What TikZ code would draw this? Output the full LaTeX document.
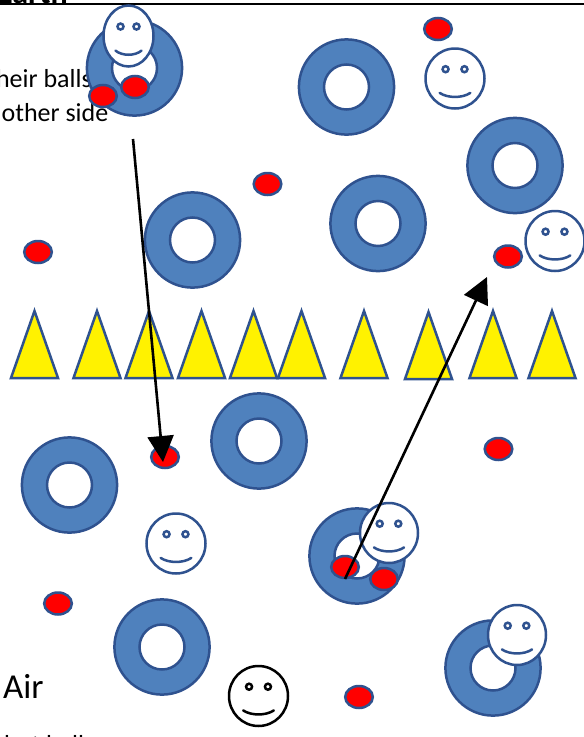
\documentclass[tikz,border=0pt]{standalone}
\usepackage{fontspec}
\setmainfont{Carlito}
\usetikzlibrary{arrows.meta}
\definecolor{ringfill}{HTML}{4F81BD}
\definecolor{ringline}{HTML}{2F528F}
\tikzset{
  x=1pt,y=-1pt,
  ring/.style={draw=ringline,line width=2.5pt,fill=ringfill,even odd rule},
  ballshape/.style={draw=ringline,line width=2.5pt,fill=red},
  tri/.style={draw=ringline,line width=2.5pt,fill=yellow,line join=miter},
  facebody/.style={draw=#1,line width=2.5pt,fill=white},
  facemark/.style={draw=#1,line width=2.5pt},
  txt/.style={inner sep=0pt,anchor=base west,text=black},
  txtend/.style={inner sep=0pt,anchor=base east,text=black},
  arrowline/.style={draw=black,line width=2.6pt,-{Triangle[length=26pt,width=26pt]}},
}
\newcommand{\ringat}[2]{\path[ring] (#1,#2) circle[radius=47.6] (#1,#2) circle[radius=22.5];}
\newcommand{\ballat}[2]{\path[ballshape] (#1,#2) ellipse[x radius=13.8,y radius=11];}
\newcommand{\triat}[2]{\path[tri] (#1-23.5,#2+33.5) -- (#1,#2-33.5) -- (#1+23.5,#2+33.5) -- cycle;}
\newcommand{\faceat}[5][ringline]{%
  \begin{scope}[shift={(#2,#3)}]
    \path[facebody=#1] (0,0) ellipse[x radius=#4,y radius=#5];
    \path[facemark=#1] (-0.32*#4,-0.31*#5) circle[radius=3]
                       (0.32*#4,-0.31*#5) circle[radius=3];
    \path[facemark=#1,line cap=round] (-0.52*#4,0.48*#5) .. controls (-0.25*#4,0.66*#5) and (0.25*#4,0.66*#5) .. (0.52*#4,0.48*#5);
  \end{scope}}
\begin{document}
\begin{tikzpicture}
\useasboundingbox (0,0) rectangle (584,737);
\node[txt,font=\fontsize{32}{32}\selectfont\bfseries] (earth) at (-3,3) {Earth};
\draw[black,line width=1.7pt] (0,3.7) -- (584,3.7);
\node[txtend,font=\fontsize{26}{26}\selectfont] (theirballs) at (92,87) {their balls};
\node[txtend,font=\fontsize{26}{26}\selectfont] (otherside) at (108.5,121) {the other side};
\node[txt,font=\fontsize{35}{35}\selectfont] (air) at (3,698) {Air};
\node[txt,font=\fontsize{26}{26}\selectfont] (hotballs) at (4,753) {hot balls};
% rings
\ringat{134.5}{68}
\ringat{346.5}{87}
\ringat{515}{165.5}
\ringat{192.5}{240}
\ringat{378}{223.5}
\ringat{259}{441}
\ringat{69.5}{485}
\ringat{357}{556}
\ringat{162}{647}
\ringat{493}{668}
% triangles
\triat{34.5}{344.5}
\triat{97}{344.5}
\triat{149}{344.5}
\triat{201.5}{344.5}
\triat{253.5}{344.5}
\triat{301.5}{344.5}
\triat{364}{344.5}
\triat{428.5}{345.5}
\triat{493}{344.5}
\triat{552}{344.5}
% balls
\ballat{438}{29}
\ballat{267.5}{184}
\ballat{38}{252}
\ballat{508}{256.5}
\ballat{498.5}{449}
\ballat{58}{603.5}
\ballat{359}{697}
\ballat{165}{457}
% faces
\faceat{128.5}{36}{25}{30.5}
\ballat{103}{96}
\ballat{135}{87}
\faceat{455}{78.5}{29.5}{30}
\faceat{555}{241}{29.5}{30}
\faceat{176}{543.5}{29.5}{30}
\ballat{345}{567}
\ballat{384}{579}
\faceat{389}{533}{29}{30}
\faceat{517}{635}{29}{30}
\faceat[black]{258.5}{696}{29.5}{30}
% arrows
\coordinate (a1s) at (133,139);
\coordinate (a1e) at (163,462);
\coordinate (a2s) at (345,579);
\coordinate (a2e) at (487,277);
\draw[arrowline] (a1s) -- (a1e);
\draw[arrowline] (a2s) -- (a2e);
\end{tikzpicture}
\end{document}
